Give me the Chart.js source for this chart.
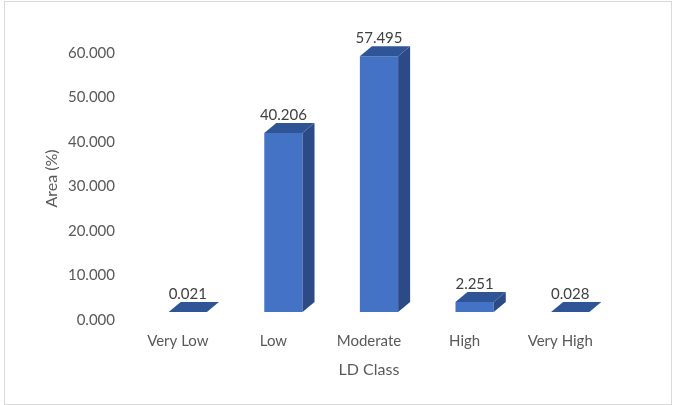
<!DOCTYPE html>
<html>
<head>
<meta charset="utf-8">
<script src="https://cdn.jsdelivr.net/npm/chart.js@4.4.1/dist/chart.umd.min.js"></script>
<style>
  html, body { margin: 0; padding: 0; background: #fff; }
  #wrap { position: relative; width: 675px; height: 405px; }
  #frame { position: absolute; left: 4px; top: 1px; width: 666px; height: 402px; border: 1px solid #d9d9d9; pointer-events: none; }
</style>
</head>
<body>
<div id="wrap">
  <canvas id="ldChart" width="675" height="405"></canvas>
  <div id="frame"></div>
</div>
<script>
// LD class areas
const classes = ['Very Low', 'Low', 'Moderate', 'High', 'Very High'];
const areaPct = [0.021, 40.206, 57.495, 2.251, 0.028];
const yTicks = [0, 10, 20, 30, 40, 50, 60];

// fake 3D: top + side faces and value labels on each bar
const bar3d = {
    id: 'bar3d',
    afterDatasetsDraw(chart) {
        const c = chart.ctx;
        const meta = chart.getDatasetMeta(0);
        const dx = 12, dy = 10;
        meta.data.forEach((bar, i) => {
            const w = bar.width / 2;
            const l = bar.x - w, r = bar.x + w;
            const top = bar.y, base = bar.base;
            // side
            c.fillStyle = '#2b4a86';
            c.beginPath();
            c.moveTo(r, top);
            c.lineTo(r + dx, top - dy);
            c.lineTo(r + dx, base - dy);
            c.lineTo(r, base);
            c.closePath();
            c.fill();
            // top
            c.fillStyle = '#2f5597';
            c.beginPath();
            c.moveTo(l, top);
            c.lineTo(l + dx, top - dy);
            c.lineTo(r + dx, top - dy);
            c.lineTo(r, top);
            c.closePath();
            c.fill();
            // value
            c.fillStyle = '#404040';
            c.font = '15px Lato';
            c.textAlign = 'center';
            c.textBaseline = 'middle';
            c.fillText(areaPct[i].toFixed(3), bar.x, top - 18);
        });
    }
};

new Chart(document.getElementById('ldChart'), {
    type: 'bar',
    data: {
        labels: classes,
        datasets: [{
            data: areaPct,
            backgroundColor: '#4472c4',
            barPercentage: 0.4,
            categoryPercentage: 1.0
        }]
    },
    options: {
        responsive: false,
        animation: false,
        layout: { padding: { left: 0, right: 57, top: 45, bottom: 0 } },
        plugins: {
            legend: { display: false },
            tooltip: { enabled: false }
        },
        scales: {
            x: {
                grid: { display: false, drawTicks: false },
                border: { display: false },
                ticks: { color: '#595959', font: { family: 'Lato', size: 15 }, padding: 20, labelOffset: -10, maxRotation: 0 },
                title: { display: true, text: 'LD Class', color: '#595959', font: { family: 'Lato', size: 16 }, padding: { top: 0, bottom: 26 } },
                afterFit(axis) {
                    axis.height = 405 - 312;
                    // title sits a bit left of the plot centre, like the labels
                    const orig = axis.drawTitle;
                    axis.drawTitle = function () {
                        const c = this.ctx;
                        c.save();
                        c.translate(-10, 0);
                        orig.call(this);
                        c.restore();
                    };
                }
            },
            y: {
                min: 0,
                max: 60,
                afterBuildTicks(axis) { axis.ticks = yTicks.map(v => ({ value: v })); },
                grid: { display: false, drawTicks: false },
                border: { display: false },
                ticks: {
                    color: '#595959',
                    font: { family: 'Lato', size: 15 },
                    padding: 25,
                    labelOffset: 8,
                    callback: v => v.toFixed(3)
                },
                title: { display: true, text: 'Area (%)', color: '#595959', font: { family: 'Lato', size: 16 }, padding: { top: 42, bottom: 0 } },
                afterFit(axis) { axis.width = 140; }
            }
        }
    },
    plugins: [bar3d]
});
</script>
</body>
</html>
